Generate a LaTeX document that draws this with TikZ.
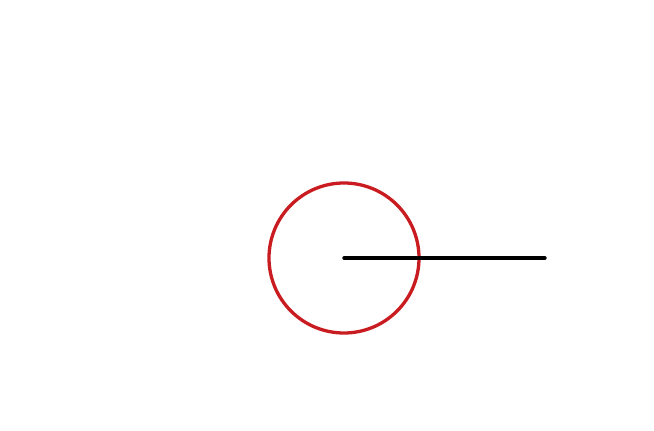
\documentclass[tikz,border=0pt]{standalone}
\definecolor{circred}{RGB}{200,28,32}
\begin{document}
\begin{tikzpicture}[x=1pt,y=-1pt,
  ringstyle/.style={draw=circred,line width=3.3pt},
  radiusline/.style={draw=black,line width=3.4pt,line cap=round}]
\useasboundingbox (0,0) rectangle (654,431);
\coordinate (c) at (344,258);
\coordinate (e) at (545,258);
\draw[ringstyle] (c) circle[radius=75];
\draw[radiusline] (c) -- (e);
\end{tikzpicture}
\end{document}
